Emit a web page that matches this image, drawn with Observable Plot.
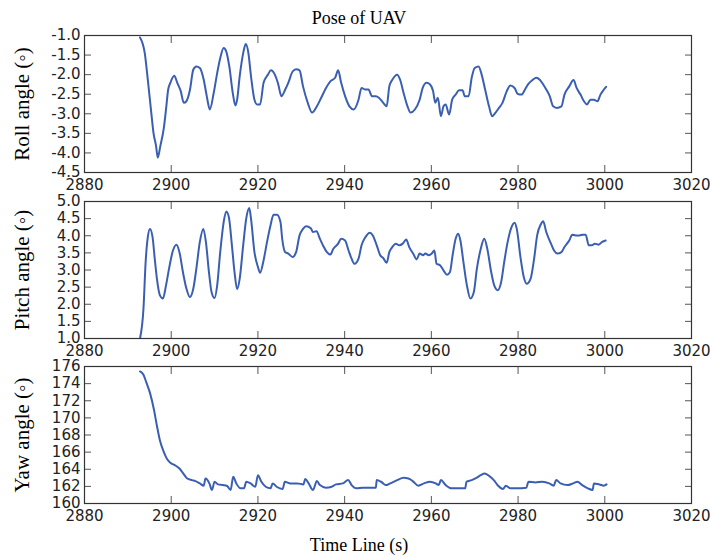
<!DOCTYPE html>
<html><head><meta charset="utf-8">
<script src="https://cdn.jsdelivr.net/npm/d3@7"></script>
<script src="https://cdn.jsdelivr.net/npm/@observablehq/plot@0.6"></script>
<style>
body{margin:0;background:#fff;}
#wrap{position:relative;width:710px;height:557px;overflow:hidden;background:#fff;}
.ttl{position:absolute;left:0;width:718px;text-align:center;font-family:"Liberation Serif",serif;font-size:18px;line-height:20px;color:#000;}
.pl{position:absolute;left:0;}
</style></head><body><div id="wrap"><div class="ttl" id="title" style="top:8px"></div><div class="ttl" id="xlabel" style="top:535px"></div></div>
<script>
const chartTitle = "Pose of UAV";
const xTitle = "Time Line (s)";
const panelLabels = ["Roll angle (\u25E6)", "Pitch angle (\u25E6)", "Yaw angle (\u25E6)"];
const xTicks = [2880, 2900, 2920, 2940, 2960, 2980, 3000, 3020];
const rollTicks = [-1.0, -1.5, -2.0, -2.5, -3.0, -3.5, -4.0, -4.5];
const pitchTicks = [1.0, 1.5, 2.0, 2.5, 3.0, 3.5, 4.0, 4.5, 5.0];
const yawTicks = [160, 162, 164, 166, 168, 170, 172, 174, 176];

const rollTime = [2892.8, 2893.9, 2894.6, 2895.4, 2895.9, 2896.5, 2896.9, 2897.5, 2898.3, 2898.8,
 2899.3, 2899.8, 2900.7, 2901.4, 2902.2, 2902.9, 2903.5, 2904.3, 2905.1, 2905.8,
 2906.6, 2907.5, 2908.2, 2908.9, 2909.8, 2910.6, 2911.3, 2912.1, 2912.7, 2913.4,
 2914.2, 2914.8, 2915.2, 2915.8, 2916.6, 2917.2, 2917.8, 2918.4, 2919.2, 2919.8,
 2920.5, 2921.3, 2922.3, 2923.0, 2923.9, 2924.7, 2925.4, 2926.3, 2927.0, 2928.0,
 2928.8, 2929.6, 2930.4, 2931.5, 2932.5, 2933.6, 2934.6, 2935.7, 2936.7, 2937.8,
 2938.5, 2939.2, 2940.1, 2941.1, 2942.1, 2943.2, 2943.9, 2944.8, 2945.5, 2946.3,
 2947.2, 2947.9, 2948.9, 2949.7, 2950.3, 2951.0, 2952.1, 2952.8, 2953.6, 2954.5,
 2955.2, 2956.2, 2957.3, 2958.0, 2958.9, 2959.7, 2960.4, 2960.9, 2961.5, 2962.2,
 2962.8, 2963.3, 2964.1, 2964.8, 2965.6, 2966.4, 2967.2, 2967.7, 2968.6, 2969.3,
 2970.0, 2970.9, 2971.6, 2972.4, 2973.3, 2974.0, 2974.8, 2975.6, 2976.4, 2977.4,
 2978.2, 2979.2, 2979.9, 2980.8, 2981.6, 2982.3, 2983.4, 2984.2, 2985.0, 2985.8,
 2986.5, 2987.3, 2988.1, 2988.9, 2990.0, 2990.7, 2991.8, 2992.8, 2993.5, 2994.4,
 2995.2, 2995.9, 2996.7, 2997.5, 2998.3, 2999.0, 2999.8, 3000.3];
const rollValues = [-1.05, -1.45, -2.13, -2.97, -3.48, -3.82, -4.12, -3.82, -3.36, -2.89,
 -2.38, -2.21, -2.03, -2.21, -2.42, -2.72, -2.68, -2.40, -1.87, -1.79,
 -1.83, -2.13, -2.55, -2.89, -2.47, -1.96, -1.58, -1.32, -1.41, -1.79,
 -2.47, -2.79, -2.64, -2.04, -1.45, -1.22, -1.45, -2.04, -2.64, -2.76,
 -2.76, -2.21, -2.00, -1.89, -2.00, -2.25, -2.55, -2.38, -2.21, -1.92,
 -1.86, -1.89, -2.30, -2.72, -2.97, -2.81, -2.59, -2.34, -2.17, -2.08,
 -1.89, -2.21, -2.55, -2.81, -2.89, -2.64, -2.34, -2.38, -2.38, -2.55,
 -2.55, -2.59, -2.72, -2.81, -2.30, -2.13, -2.00, -2.13, -2.47, -2.81,
 -2.97, -2.89, -2.64, -2.34, -2.21, -2.25, -2.42, -2.72, -2.59, -3.06,
 -2.81, -2.76, -3.02, -2.64, -2.51, -2.40, -2.40, -2.55, -2.55, -2.08,
 -1.83, -1.79, -2.00, -2.38, -2.81, -3.06, -2.97, -2.85, -2.72, -2.42,
 -2.28, -2.34, -2.49, -2.51, -2.38, -2.25, -2.13, -2.08, -2.13, -2.25,
 -2.38, -2.55, -2.81, -2.85, -2.81, -2.51, -2.30, -2.14, -2.34, -2.51,
 -2.68, -2.76, -2.64, -2.64, -2.68, -2.51, -2.38, -2.31];

const pitchTime = [2892.8, 2893.6, 2894.1, 2894.6, 2895.1, 2895.7, 2896.2, 2896.7, 2897.4, 2898.1,
 2898.8, 2899.5, 2900.4, 2901.2, 2901.9, 2902.7, 2903.5, 2904.3, 2905.1, 2905.8,
 2906.6, 2907.4, 2908.0, 2908.7, 2909.3, 2910.0, 2910.6, 2911.3, 2912.1, 2912.7,
 2913.3, 2914.0, 2914.6, 2915.2, 2915.8, 2916.6, 2917.3, 2918.0, 2918.4, 2919.2,
 2920.0, 2920.5, 2921.3, 2922.1, 2922.9, 2923.6, 2924.4, 2925.2, 2925.6, 2926.3,
 2927.0, 2928.0, 2928.8, 2929.6, 2930.4, 2931.1, 2932.2, 2932.7, 2933.5, 2934.3,
 2935.0, 2935.9, 2936.7, 2937.4, 2938.5, 2939.2, 2940.1, 2940.9, 2941.6, 2942.3,
 2943.2, 2943.9, 2944.8, 2945.8, 2946.5, 2947.4, 2948.2, 2948.9, 2949.7, 2950.3,
 2951.0, 2951.8, 2952.6, 2953.4, 2954.2, 2954.9, 2955.8, 2956.6, 2957.3, 2958.1,
 2958.6, 2959.4, 2960.1, 2960.7, 2961.2, 2962.0, 2962.8, 2963.6, 2964.3, 2964.9,
 2965.6, 2966.2, 2966.7, 2967.4, 2968.2, 2969.0, 2969.8, 2970.5, 2971.4, 2972.2,
 2972.9, 2973.8, 2974.5, 2975.3, 2976.1, 2976.8, 2977.6, 2978.4, 2979.2, 2979.7,
 2980.6, 2981.3, 2982.0, 2982.9, 2983.7, 2984.4, 2985.2, 2985.8, 2986.5, 2987.6,
 2988.3, 2989.1, 2990.0, 2990.7, 2991.8, 2992.5, 2993.3, 2994.2, 2994.9, 2995.6,
 2996.3, 2997.0, 2997.7, 2998.6, 2999.4, 3000.2];
const pitchValues = [1.0, 1.87, 3.23, 3.96, 4.20, 3.96, 3.33, 2.75, 2.26, 2.17,
 2.55, 3.04, 3.57, 3.74, 3.52, 2.94, 2.46, 2.21, 2.46, 3.04,
 3.82, 4.20, 3.82, 2.94, 2.36, 2.18, 2.55, 3.52, 4.40, 4.71,
 4.54, 3.72, 2.94, 2.44, 2.75, 3.72, 4.50, 4.81, 4.50, 3.52,
 3.09, 2.92, 3.28, 3.82, 4.30, 4.61, 4.61, 4.40, 3.91, 3.52,
 3.48, 3.38, 3.52, 4.01, 4.20, 4.28, 4.22, 4.11, 4.13, 3.91,
 3.72, 3.52, 3.45, 3.62, 3.77, 3.91, 3.86, 3.57, 3.33, 3.18,
 3.33, 3.72, 3.96, 4.09, 4.01, 3.72, 3.43, 3.35, 3.21, 3.52,
 3.67, 3.77, 3.72, 3.77, 3.89, 3.67, 3.48, 3.31, 3.48, 3.43,
 3.48, 3.43, 3.48, 3.57, 3.18, 3.14, 2.99, 2.86, 2.94, 3.43,
 3.91, 4.06, 3.86, 3.23, 2.55, 2.17, 2.36, 3.04, 3.62, 3.91,
 3.62, 2.94, 2.55, 2.41, 2.65, 3.23, 3.82, 4.22, 4.38, 4.20,
 3.33, 2.80, 2.60, 2.75, 3.33, 4.01, 4.32, 4.42, 4.11, 3.77,
 3.57, 3.48, 3.52, 3.67, 3.86, 4.03, 4.01, 4.01, 4.03, 4.03,
 3.72, 3.72, 3.77, 3.74, 3.82, 3.86];

const yawTime = [2892.8, 2893.6, 2894.3, 2895.1, 2896.0, 2896.7, 2897.4, 2898.3, 2899.0, 2899.8,
 2900.9, 2901.9, 2902.8, 2903.7, 2904.8, 2905.6, 2906.6, 2907.5, 2907.9, 2908.8,
 2909.4, 2910.0, 2910.8, 2911.9, 2912.9, 2913.7, 2914.3, 2915.0, 2916.0, 2916.8,
 2917.3, 2918.3, 2919.4, 2920.0, 2920.8, 2921.8, 2922.9, 2923.4, 2924.3, 2925.7,
 2926.2, 2927.5, 2929.1, 2930.5, 2930.9, 2931.7, 2932.7, 2933.6, 2934.3, 2935.7,
 2937.0, 2938.0, 2939.6, 2940.8, 2941.6, 2942.7, 2944.2, 2945.8, 2947.2, 2947.4,
 2948.4, 2949.5, 2950.5, 2952.1, 2953.6, 2954.7, 2955.7, 2957.0, 2958.3, 2959.7,
 2961.0, 2961.7, 2962.2, 2963.3, 2964.6, 2966.2, 2967.8, 2968.1, 2969.3, 2970.4,
 2971.4, 2972.3, 2973.3, 2974.4, 2975.4, 2976.5, 2977.2, 2978.2, 2979.8, 2981.9,
 2982.4, 2984.0, 2985.6, 2987.2, 2988.2, 2988.8, 2989.8, 2991.4, 2992.7, 2993.7,
 2994.8, 2996.1, 2997.2, 2997.5, 2998.8, 2999.8, 3000.4];
const yawValues = [175.42, 175.04, 174.08, 172.92, 171.0, 169.08, 167.35, 166.0, 165.23, 164.77,
 164.46, 164.08, 163.5, 162.92, 162.73, 162.62, 162.35, 162.08, 162.92, 162.35,
 161.58, 162.54, 162.23, 162.15, 162.04, 161.58, 163.12, 162.35, 161.77, 161.77,
 162.54, 162.35, 161.96, 163.31, 162.54, 161.96, 161.77, 162.35, 161.96, 161.69,
 162.54, 162.35, 162.35, 162.23, 162.85, 162.35, 161.58, 162.62, 162.15, 161.85,
 161.96, 162.23, 162.35, 162.73, 162.15, 161.77, 161.85, 161.85, 161.85, 162.73,
 162.54, 162.15, 162.35, 162.73, 163.0, 162.92, 162.62, 162.08, 162.35, 162.54,
 162.35, 162.15, 162.73, 162.15, 161.77, 161.77, 161.77, 162.54, 162.73, 163.0,
 163.31, 163.5, 163.23, 162.73, 162.08, 161.69, 162.08, 161.77, 161.77, 161.85,
 162.54, 162.46, 162.54, 162.35, 162.08, 162.73, 162.35, 162.15, 162.35, 162.54,
 162.15, 161.77, 161.58, 162.35, 162.23, 162.08, 162.23];

const lineColor = "#3a5fb2";
const wrap = document.getElementById("wrap");
document.getElementById("title").textContent = chartTitle;
document.getElementById("xlabel").textContent = xTitle;

function panel(time, values, yDomain, yTicks, label, top, fmt) {
  const data = time.map((t, i) => ({t, v: values[i]}));
  const p = Plot.plot({
    width: 710, height: 167,
    marginTop: 5, marginBottom: 25, marginLeft: 84, marginRight: 19,
    style: {fontFamily: "DejaVu Sans", fontSize: "15px", color: "#222", background: "transparent", overflow: "visible"},
    x: {domain: [2880, 3020]},
    y: {domain: yDomain},
    marks: [
      Plot.line(data, {x: "t", y: "v", stroke: lineColor, strokeWidth: 2, curve: "monotone-x", clip: true}),
      Plot.axisX(xTicks, {anchor: "bottom", tickSize: -7, tickPadding: 14, label: null, stroke: "#555", tickFormat: d => String(d)}),
      Plot.axisX(xTicks, {anchor: "top", tickSize: -7, fill: "none", label: null, stroke: "#555"}),
      Plot.axisY(yTicks, {anchor: "left", tickSize: -7, tickPadding: 11, label: null, tickFormat: fmt, stroke: "#555"}),
      Plot.axisY(yTicks, {anchor: "right", tickSize: -7, fill: "none", label: null, stroke: "#555"}),
      Plot.frame({stroke: "#333", strokeWidth: 1.2}),
      Plot.text([label], {frameAnchor: "left", textAnchor: "middle", rotate: -90, dx: -62, fontFamily: "Liberation Serif", fontSize: 21, fill: "#000"})
    ]
  });
  p.classList.add("pl");
  p.style.top = top + "px";
  wrap.appendChild(p);
}

panel(rollTime, rollValues, [-4.5, -1.0], rollTicks, panelLabels[0], 30, d => d.toFixed(1));
panel(pitchTime, pitchValues, [1.0, 5.0], pitchTicks, panelLabels[1], 196, d => d.toFixed(1));
panel(yawTime, yawValues, [160, 176], yawTicks, panelLabels[2], 361, d => String(d));
</script>
</body></html>
